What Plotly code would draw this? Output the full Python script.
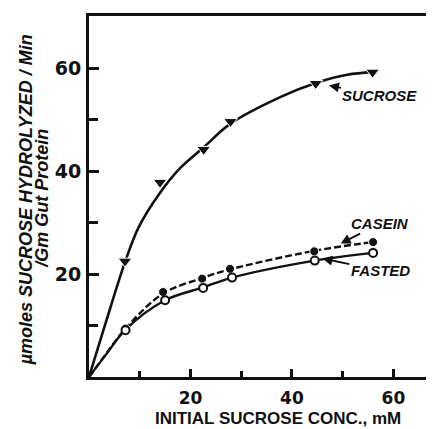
import plotly.graph_objects as go

# ---- data ----
conc_sucrose = [7.1, 14, 22.6, 27.9, 44.7, 55.9]
rate_sucrose = [22.5, 37.8, 44.2, 49.6, 57.0, 59.2]
conc_casein = [7.2, 14.6, 22.3, 27.8, 44.4, 56]
rate_casein = [9.4, 16.5, 19.1, 21.0, 24.4, 26.2]
conc_fasted = [7.2, 15.0, 22.5, 28.2, 44.5, 56]
rate_fasted = [9.1, 14.9, 17.3, 19.3, 22.6, 24.1]

# drawn (fitted) curves
curve_x_sucrose = [0, 3.25, 7.1, 9.8, 13.8, 18.0, 22.6, 27.9, 37.8, 44.7, 50.9, 55.9]
curve_y_sucrose = [0, 10.4, 22.3, 29.1, 35.5, 40.6, 44.6, 49.2, 54.4, 57.1, 58.7, 59.2]
curve_x_casein = [0, 3.3, 7.2, 14.6, 22.3, 27.8, 44.4, 56]
curve_y_casein = [0, 4.4, 9.4, 16.2, 19.2, 20.9, 24.5, 26.2]
curve_x_fasted = [0, 3.3, 7.2, 15.0, 22.5, 28.2, 44.5, 56]
curve_y_fasted = [0, 4.3, 9.2, 14.9, 17.4, 19.3, 22.6, 24.1]

x_tick_vals = [20, 40, 60]
x_tick_text = ["20", "40", "60"]
x_minor_vals = [10, 30, 50]
y_tick_vals = [20, 40, 60]
y_tick_text = ["20", "40", "60"]
y_minor_vals = [10, 30, 50]

BLACK = "#111111"
fig = go.Figure()

# curves
fig.add_trace(go.Scatter(x=curve_x_sucrose, y=curve_y_sucrose, mode="lines",
                         line=dict(color=BLACK, width=2.6, shape="spline", smoothing=1.0),
                         hoverinfo="skip"))
fig.add_trace(go.Scatter(x=curve_x_fasted, y=curve_y_fasted, mode="lines",
                         line=dict(color=BLACK, width=2.4, shape="spline"), hoverinfo="skip"))
fig.add_trace(go.Scatter(x=curve_x_casein, y=curve_y_casein, mode="lines",
                         line=dict(color=BLACK, width=2.4, shape="spline", dash="7px,3px"),
                         hoverinfo="skip"))

# markers
fig.add_trace(go.Scatter(x=conc_sucrose, y=rate_sucrose, mode="markers",
                         marker=dict(symbol="triangle-down", size=12, color=BLACK,
                                     line=dict(color="white", width=1))))
fig.add_trace(go.Scatter(x=conc_casein, y=rate_casein, mode="markers",
                         marker=dict(symbol="circle", size=9, color=BLACK,
                                     line=dict(color="white", width=1))))
fig.add_trace(go.Scatter(x=conc_fasted, y=rate_fasted, mode="markers",
                         marker=dict(symbol="circle", size=8, color="white",
                                     line=dict(color=BLACK, width=2))))

# dummy trace for right-side tick marks
fig.add_trace(go.Scatter(x=[None], y=[None], yaxis="y2", hoverinfo="skip"))

lab_font = dict(family="Liberation Sans", size=15, color=BLACK, weight="bold", style="italic")
title_font = dict(family="Liberation Sans", size=18, color=BLACK, weight="bold", style="italic")

annotations = [
    dict(text="SUCROSE", x=47.3, y=56.6, xref="x", yref="y", ax=51, ay=10,
         showarrow=True, arrowhead=2, arrowsize=1, arrowwidth=2, arrowcolor=BLACK,
         font=lab_font),
    dict(text="CASEIN", x=49.6, y=25.9, xref="x", yref="y", ax=39, ay=-20,
         showarrow=True, arrowhead=2, arrowsize=1, arrowwidth=2, arrowcolor=BLACK,
         font=lab_font),
    dict(text="FASTED", x=46.0, y=23.0, xref="x", yref="y", ax=58, ay=12,
         showarrow=True, arrowhead=2, arrowsize=1, arrowwidth=2, arrowcolor=BLACK,
         font=lab_font),
    dict(text="µmoles SUCROSE HYDROLYZED / Min", x=-0.181, y=0.49, xref="paper", yref="paper",
         textangle=-90, showarrow=False, xanchor="center", yanchor="middle", font=title_font),
    dict(text="/Gm Gut Protein", x=-0.134, y=0.495, xref="paper", yref="paper",
         textangle=-90, showarrow=False, xanchor="center", yanchor="middle", font=title_font),
    dict(text="INITIAL SUCROSE CONC., mM", x=0.546, y=-0.114, xref="paper", yref="paper",
         showarrow=False, xanchor="center", yanchor="middle",
         font=dict(family="Liberation Sans", size=17, color=BLACK, weight="bold")),
]

fig.update_layout(
    width=434, height=429,
    margin=dict(l=81, r=6, t=5, b=60),
    paper_bgcolor="white", plot_bgcolor="white",
    showlegend=False,
    annotations=annotations,
    xaxis=dict(range=[0, 68.4], showgrid=False, zeroline=False,
               showline=True, linewidth=3, linecolor=BLACK, mirror=True,
               ticks="inside", ticklen=8, tickwidth=2.5, tickcolor=BLACK,
               tickmode="array", tickvals=x_tick_vals, ticktext=x_tick_text,
               tickfont=dict(family="DejaVu Sans", size=17, color=BLACK, weight="bold"),
               ticklabelstandoff=4,
               minor=dict(tickmode="array", tickvals=x_minor_vals, ticks="inside",
                          ticklen=6, tickwidth=2.5, tickcolor=BLACK)),
    yaxis=dict(range=[0, 70.1], showgrid=False, zeroline=False,
               showline=True, linewidth=3, linecolor=BLACK,
               ticks="inside", ticklen=10, tickwidth=2.5, tickcolor=BLACK,
               tickmode="array", tickvals=y_tick_vals, ticktext=y_tick_text,
               tickfont=dict(family="DejaVu Sans", size=19, color=BLACK, weight="bold"),
               ticklabelstandoff=1,
               minor=dict(tickmode="array", tickvals=y_minor_vals, ticks="inside",
                          ticklen=9, tickwidth=2.5, tickcolor=BLACK)),
    yaxis2=dict(overlaying="y", side="right", matches="y", range=[0, 70.1],
                showgrid=False, zeroline=False, showline=False,
                ticks="inside", ticklen=6, tickwidth=2.5, tickcolor=BLACK,
                tickmode="array", tickvals=y_tick_vals, showticklabels=False),
)

fig.write_html("out.html")
